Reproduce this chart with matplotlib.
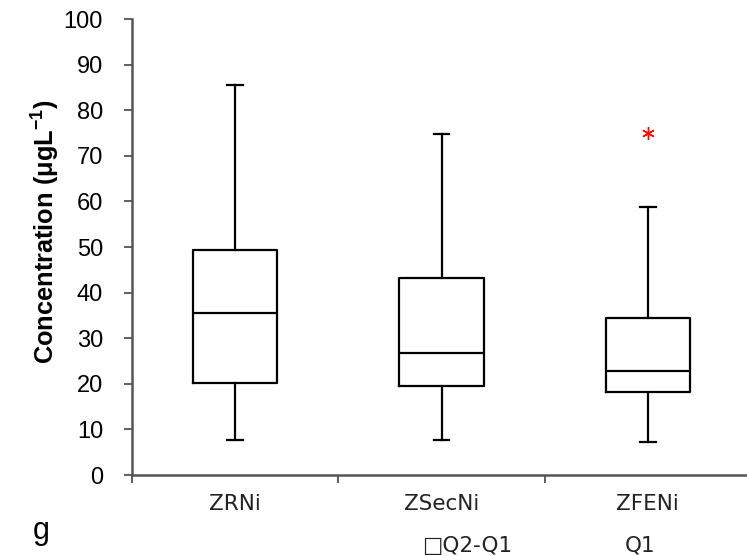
import matplotlib
matplotlib.use("Agg")
import matplotlib.pyplot as plt

plt.rcParams["font.family"] = ["Liberation Sans", "DejaVu Sans"]
plt.rcParams["mathtext.fontset"] = "custom"
plt.rcParams["mathtext.rm"] = "Liberation Sans"
plt.rcParams["mathtext.bf"] = "Liberation Sans:bold"

# data
sites = ["ZRNi", "ZSecNi", "ZFENi"]
wlo = [7.7, 7.7, 7.2]
q1 = [20.2, 19.5, 18.2]
med = [35.5, 26.8, 22.8]
q3 = [49.3, 43.2, 34.4]
whi = [85.5, 74.8, 58.8]
outliers = [[], [], [75.0]]

stats = []
for i, s in enumerate(sites):
    stats.append(dict(label=s, whislo=wlo[i], q1=q1[i], med=med[i],
                      q3=q3[i], whishi=whi[i], fliers=outliers[i]))

fig = plt.figure(figsize=(7.47, 5.56), dpi=100)
ax = fig.add_axes([132/747, 1-475/556, 619/747, 456/556])

lw = 1.6
ax.bxp(stats, positions=[1, 2, 3], widths=0.41,
       boxprops=dict(color="black", linewidth=lw),
       medianprops=dict(color="black", linewidth=lw),
       whiskerprops=dict(color="black", linewidth=lw),
       capprops=dict(color="black", linewidth=lw),
       capwidths=0.075,
       flierprops=dict(marker=(6, 2, 0), markersize=9, markeredgecolor="red",
                       markerfacecolor="red", markeredgewidth=1.0, linestyle="none"))

ax.set_xlim(0.5, 3.5)
ax.set_ylim(0, 100)
ax.set_yticks(range(0, 101, 10))
ax.tick_params(axis="y", labelsize=17, length=5.8, width=1.2, color="#444444", pad=15)

ax.set_xticks([1, 2, 3])
ax.set_xticklabels(sites, fontsize=15.5, color="#222222", family="DejaVu Sans")
ax.tick_params(axis="x", which="major", length=0, pad=14)
ax.set_xticks([0.5, 1.5, 2.5, 3.5], minor=True)
ax.tick_params(axis="x", which="minor", length=6, width=1.2, color="#444444")

for side in ["top", "right"]:
    ax.spines[side].set_visible(False)
for side in ["left", "bottom"]:
    ax.spines[side].set_color("#555555")
    ax.spines[side].set_linewidth(1.8)

ax.set_ylabel("Concentration (μgL$^{\\mathbf{-1}}$)", fontsize=18.3, fontweight="bold")
ax.yaxis.set_label_coords(-0.113, 0.533)

fig.text(41/747, 1-531/556, "g", fontsize=22, ha="center", va="center")
fig.text(422/747, 1-552/556, "□Q2-Q1", fontsize=15.5, ha="left", va="baseline",
         family="DejaVu Sans", color="#222222")
fig.text(625/747, 1-552/556, "Q1", fontsize=15.5, ha="left", va="baseline",
         family="DejaVu Sans", color="#222222")

fig.savefig("out.png", dpi=100)
